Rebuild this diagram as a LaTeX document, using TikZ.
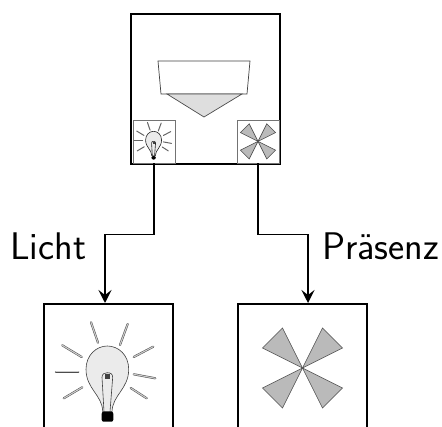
\documentclass[tikz,border=0pt]{standalone}
\usepackage{tikz}
\usetikzlibrary{arrows.meta}
\tikzstyle{frame} = [draw=black, line width=1.8pt, inner sep=0pt, anchor=north]
\tikzstyle{iconbox} = [draw=black!55, line width=.7pt, inner sep=0pt, minimum width=42pt, minimum height=43pt]
\tikzstyle{arrow} = [line width=1.5pt, -{Stealth[length=13pt,width=13pt,inset=5pt]}]
\tikzstyle{ray} = [draw=black!70, line width=.5pt, double=black!20, double distance=1.1pt, line cap=round]
\tikzstyle{bulbline} = [draw=black!75, line width=.6pt]
\tikzstyle{label} = [font=\fontsize{38.5}{42}\selectfont\sffamily, inner sep=0pt, anchor=base west]
\tikzset{
    bulb/.pic={
        % rays
        \foreach \ax/\ay/\bx/\by in {-17.5/19.3/-10.5/39.7, 19.2/21/11.5/42, 44.8/43.7/25.2/54,
            46.8/75.3/25.2/71.3, 38.2/95.3/22.2/85, -26.2/84.3/-44.8/95.3,
            -30.2/68.7/-52.5/68.7, -46.2/42.3/-26.8/54}
            \draw[ray] (\ax,\ay) -- (\bx,\by);
        % glass
        \draw[bulbline, fill=black!8] (-5.8,108.7) .. controls (-6,92) and (-22.5,86) .. (-22.5,66.3)
            .. controls (-22.5,52) and (-12,43) .. (-1.2,43)
            .. controls (10,43) and (20.2,52) .. (20.2,66.3)
            .. controls (20.2,86) and (4,92) .. (3.5,108.7) -- cycle;
        % filament
        \draw[bulbline] (-4.5,108.7) -- (-6.5,74.3) .. controls (-6.5,71) and (-4,69.7) .. (-1.2,69.7)
            .. controls (2,69.7) and (4.2,71) .. (4.2,74.3) -- (1.5,108.7);
        \fill[black!75] (-3.5,76) rectangle (1.5,71);
        % socket
        \fill[black, rounded corners=2pt] (-6.8,108.7) rectangle (4.8,118.7);
    },
    fan/.pic={
        \foreach \a in {0,90,180,270}
            \draw[rotate around={\a:(0,65)}, draw=black!70, fill=black!27, line width=.6pt]
                (0,65) -- (-20,25) -- (-40,45) -- cycle;
    },
}

\begin{document}
\begin{tikzpicture}[x=1pt, y=-1pt]
    \useasboundingbox (0,0) rectangle (442,427);
    \clip (0,0) rectangle (442,427);

    % sensor housing
    \node[frame, line width=2.3pt, minimum width=148.5pt, minimum height=150pt] (sensor) at (205.5,13) {};
    \node[iconbox] (smallLamp) at (154,141.5) {};
    \node[iconbox] (smallFan) at (258,141.5) {};
    \draw[draw=black!75, line width=.7pt] (158,61) -- (250,61) -- (247,94) -- (161,94) -- cycle;
    \draw[draw=black!70, fill=black!13, line width=.7pt] (167,94) -- (242,94) -- (204,117) -- cycle;
    \pic[scale=.374, ray/.style={draw=black!60, line width=1pt, line cap=round},
        bulbline/.style={draw=black!85, line width=.6pt}] at ([yshift=4.4pt]smallLamp.north) {bulb};
    \pic[scale=.44] at ([yshift=6.9pt]smallFan.north) {fan};

    % outputs
    \node[frame, minimum width=129pt, minimum height=135pt] (lamp) at (108.5,303) {};
    \node[frame, minimum width=129pt, minimum height=135pt] (fanBox) at (302.5,303) {};
    \pic at (lamp.north) {bulb};
    \pic at (fanBox.north) {fan};

    \coordinate (lampIn) at (105,303);
    \coordinate (fanIn) at (308,303);
    \draw[arrow] (smallLamp.south) -- ++(0,71) -| (lampIn);
    \draw[arrow] (smallFan.south) -- ++(0,71) -| (fanIn);

    \node[label] (licht) at (10,260) {Licht};
    \node[label] (praesenz) at (322,260) {Pr\"asenz};
\end{tikzpicture}
\end{document}
